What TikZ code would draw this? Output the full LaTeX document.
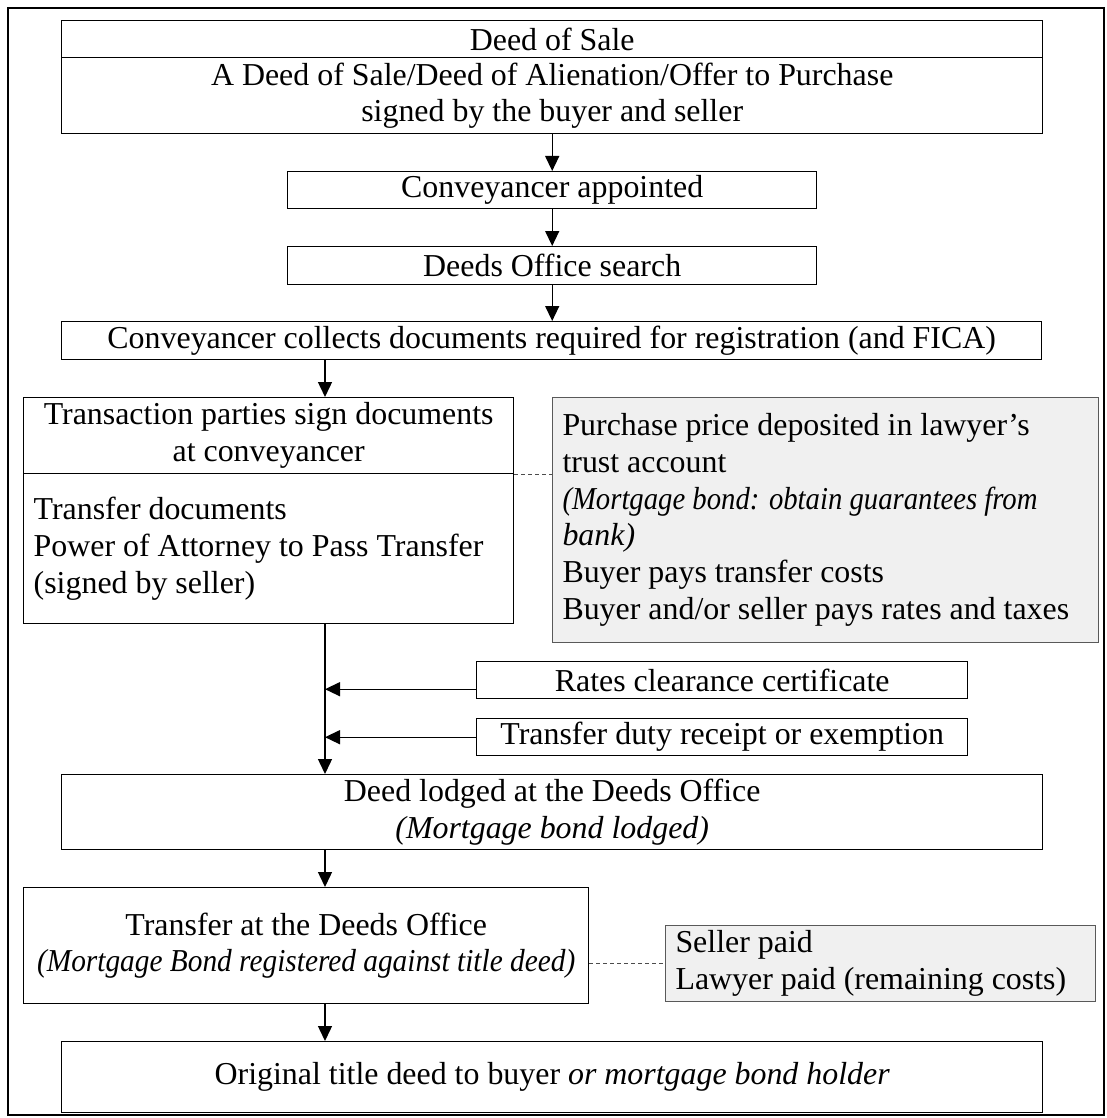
\documentclass[tikz,border=0pt]{standalone}
\usepackage{fontspec}
\usepackage{graphicx}
\setmainfont{Liberation Serif}
\usetikzlibrary{arrows.meta}
\newcommand\msize{\fontsize{31.9}{36.7}\selectfont}
\tikzset{
  box/.style={draw=black, line width=1.4pt, anchor=north west, inner sep=0pt, align=center, font=\msize},
  graybox/.style={draw=black!65, line width=1pt, fill=black!6, anchor=north west, inner ysep=0pt, align=flush left, font=\msize},
  arr/.style={-{Triangle[length=15pt,width=14pt]}, line width=1.4pt, draw=black},
  dashline/.style={dashed, dash pattern=on 4pt off 3pt, line width=1pt, draw=black!70}
}
\begin{document}
\begin{tikzpicture}[x=1pt,y=-1pt]
\useasboundingbox (0,0) rectangle (1107,1118);
\draw[line width=1.2pt] (8,8) rectangle (1104,1115);

\node[box, minimum width=981pt, minimum height=37pt] (dhead) at (61,20) {Deed of Sale};
\node[box, minimum width=981pt, minimum height=76pt] (dbody) at (61,57) {A Deed of Sale/Deed of Alienation/Offer to Purchase\\signed by the buyer and seller};
\node[box, minimum width=529pt, minimum height=37pt] (appt) at (287,171) {Conveyancer appointed};
\node[box, minimum width=529pt, minimum height=38pt] (search) at (287,246) {Deeds Office search};
\node[box, minimum width=980pt, minimum height=38pt] (collect) at (61,321) {Conveyancer collects documents required for registration (and FICA)};
\node[box, minimum width=490pt, minimum height=76pt] (thead) at (23,397) {Transaction parties sign documents\\at conveyancer};
\node[box, align=flush left, text width=470pt, inner xsep=10pt, minimum height=150pt] (tbody) at (23,473) {Transfer documents\\Power of Attorney to Pass Transfer\\(signed by seller)};
\node[graybox, text width=526pt, inner xsep=10pt, minimum height=245pt] (pay) at (552,397) {Purchase price deposited in lawyer's\\trust account\\\scalebox{0.9}[1]{\itshape (Mortgage bond: obtain guarantees from}\\\textit{bank)}\\Buyer pays transfer costs\\Buyer and/or seller pays rates and taxes};
\node[box, minimum width=491pt, minimum height=37pt] (rates) at (476,661) {Rates clearance certificate};
\node[box, minimum width=491pt, minimum height=37pt] (duty) at (476,718) {Transfer duty receipt or exemption};
\node[box, minimum width=981pt, minimum height=75pt] (lodged) at (61,774) {Deed lodged at the Deeds Office\\\textit{(Mortgage bond lodged)}};
\node[box, minimum width=565pt, minimum height=116pt] (transfer) at (23,887) {Transfer at the Deeds Office\\\scalebox{0.92}[1]{\itshape (Mortgage Bond registered against title deed)}};
\node[graybox, text width=410pt, inner xsep=10pt, minimum height=76pt] (seller) at (665,925) {Seller paid\\Lawyer paid (remaining costs)};
\node[box, minimum width=981pt, minimum height=71pt] (final) at (61,1041) {Original title deed to buyer \textit{or mortgage bond holder}};

\coordinate (vx) at (325,0);
\draw[arr] (dbody.south) -- (appt.north);
\draw[arr] (appt.south) -- (search.north);
\draw[arr] (search.south) -- (search.south |- collect.north);
\draw[arr] (vx |- collect.south) -- (vx |- thead.north);
\draw[arr] (vx |- tbody.south) -- (vx |- lodged.north);
\draw[arr] ([yshift=-9pt]rates.west) -- ([yshift=-9pt]rates.west -| vx);
\draw[arr] (duty.west) -- (duty.west -| vx);
\draw[arr] (vx |- lodged.south) -- (vx |- transfer.north);
\draw[arr] (vx |- transfer.south) -- (vx |- final.north);
\draw[dashline] (thead.south east) -- (thead.south east -| pay.west);
\draw[dashline] (seller.west -| transfer.east) -- (seller.west);
\end{tikzpicture}
\end{document}
